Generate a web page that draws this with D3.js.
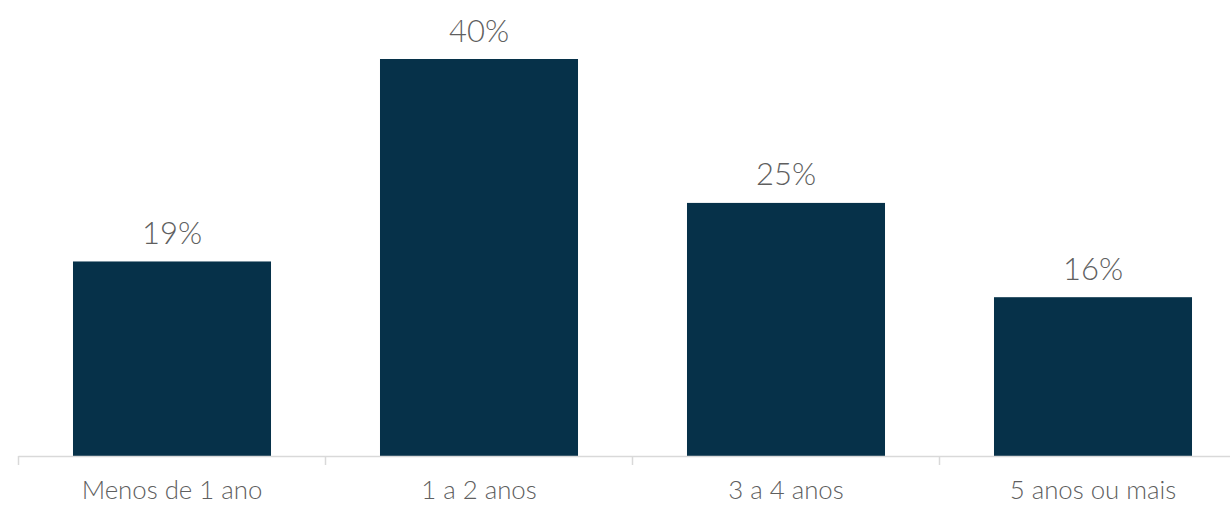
<!DOCTYPE html>
<html>
<head>
<meta charset="utf-8">
<script src="https://cdn.jsdelivr.net/npm/d3@7"></script>
<style>
  html, body { margin: 0; padding: 0; background: #ffffff; }
  svg { display: block; }
  text { font-family: "Lato Light", "Lato", "Open Sans", sans-serif; font-weight: 300; fill: #5f5f5f; }
</style>
</head>
<body>
<svg id="chart" width="1230" height="505"></svg>
<script>
const categories = ["Menos de 1 ano", "1 a 2 anos", "3 a 4 anos", "5 anos ou mais"];
const values = [19.6, 40.0, 25.5, 16.0];
const valueLabels = ["19%", "40%", "25%", "16%"];

const svg = d3.select("#chart");
const baseY = 456;

const x = d3.scaleBand()
  .domain(categories)
  .range([18.5, 18.5 + 4 * 307])
  .paddingInner(0.355)
  .paddingOuter(0.1775);

const y = d3.scaleLinear()
  .domain([0, 45])
  .range([baseY, baseY - 45 * 9.925]);

// bars
svg.selectAll("rect.bar")
  .data(categories)
  .join("rect")
  .attr("class", "bar")
  .attr("x", d => x(d))
  .attr("width", x.bandwidth())
  .attr("y", (d, i) => y(values[i]))
  .attr("height", (d, i) => y(0) - y(values[i]))
  .attr("fill", "#063149");

// axis line
const step = x.step();
const r0 = x.range()[0];
svg.append("line")
  .attr("x1", r0).attr("x2", 1230)
  .attr("y1", baseY + 0.5).attr("y2", baseY + 0.5)
  .attr("stroke", "#d9d9d9").attr("stroke-width", 1.5);

// ticks at band boundaries
const tickXs = d3.range(categories.length + 1).map(i => r0 + i * step).filter(v => v <= 1230);
svg.selectAll("line.tick")
  .data(tickXs)
  .join("line")
  .attr("class", "tick")
  .attr("x1", d => d).attr("x2", d => d)
  .attr("y1", baseY).attr("y2", baseY + 9)
  .attr("stroke", "#d9d9d9").attr("stroke-width", 1.5);

// category labels
svg.selectAll("text.cat")
  .data(categories)
  .join("text")
  .attr("class", "cat")
  .attr("x", d => x(d) + x.bandwidth() / 2)
  .attr("y", 498.5)
  .attr("text-anchor", "middle")
  .style("font-size", "25.8px")
  .text(d => d);

// value labels
svg.selectAll("text.val")
  .data(categories)
  .join("text")
  .attr("class", "val")
  .attr("x", d => x(d) + x.bandwidth() / 2)
  .attr("y", (d, i) => y(values[i]) - 17.5)
  .attr("text-anchor", "middle")
  .style("font-size", "31px")
  .text((d, i) => valueLabels[i]);
</script>
</body>
</html>
